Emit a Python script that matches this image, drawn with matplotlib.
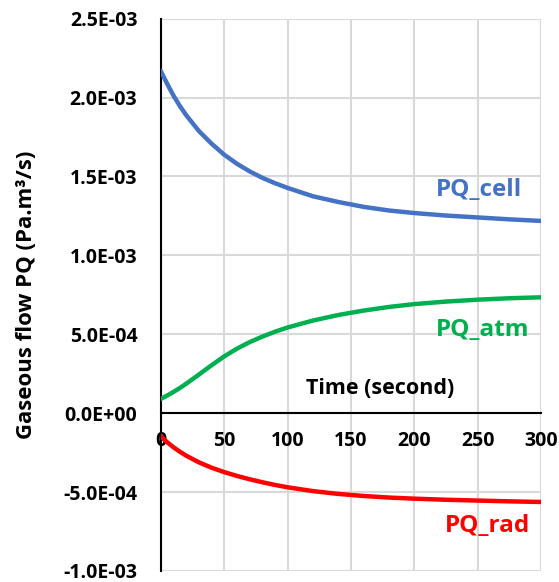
import matplotlib
matplotlib.use("Agg")
import matplotlib.pyplot as plt

plt.rcParams['font.family'] = ['Open Sans', 'DejaVu Sans']
plt.rcParams['font.weight'] = 'bold'

# values (time in s, flow in Pa.m3/s)
time = [0, 5, 10, 15, 20, 30, 40, 50, 60, 70, 80, 90, 100,
        120, 140, 160, 180, 200, 225, 250, 275, 300]
pq_cell = [2.165e-3, 2.085e-3, 2.010e-3, 1.945e-3, 1.887e-3, 1.787e-3, 1.707e-3, 1.637e-3,
           1.580e-3, 1.532e-3, 1.491e-3, 1.457e-3, 1.427e-3,
           1.374e-3, 1.338e-3, 1.307e-3, 1.284e-3, 1.268e-3, 1.252e-3, 1.240e-3, 1.228e-3, 1.218e-3]
pq_atm = [0.91e-4, 1.12e-4, 1.35e-4, 1.60e-4, 1.87e-4, 2.45e-4, 3.04e-4, 3.60e-4,
          4.09e-4, 4.50e-4, 4.85e-4, 5.16e-4, 5.43e-4,
          5.87e-4, 6.22e-4, 6.50e-4, 6.73e-4, 6.91e-4, 7.07e-4, 7.19e-4, 7.28e-4, 7.34e-4]
pq_rad = [-1.49e-4, -1.85e-4, -2.17e-4, -2.45e-4, -2.70e-4, -3.12e-4, -3.46e-4, -3.74e-4,
          -3.98e-4, -4.19e-4, -4.38e-4, -4.55e-4, -4.70e-4,
          -4.94e-4, -5.12e-4, -5.25e-4, -5.35e-4, -5.42e-4, -5.49e-4, -5.54e-4, -5.59e-4, -5.63e-4]

x_ticks = [0, 50, 100, 150, 200, 250, 300]
y_ticks = [-1.0e-3, -5.0e-4, 0.0, 5.0e-4, 1.0e-3, 1.5e-3, 2.0e-3, 2.5e-3]

c_cell = '#4472C4'
c_atm = '#00B050'
c_rad = '#FF0000'

fig = plt.figure(figsize=(5.59, 5.82), dpi=100)
ax = fig.add_axes([0.288, 0.019, 0.680, 0.949])

for vals, col in [(pq_cell, c_cell), (pq_atm, c_atm), (pq_rad, c_rad)]:
    ax.plot(time, vals, color=col, lw=3.2, solid_joinstyle='round', zorder=3)

ax.set_xlim(0, 300)
ax.set_ylim(-1.0e-3, 2.5e-3)
ax.set_xticks(x_ticks)
ax.set_yticks(y_ticks)
ax.set_yticklabels(['%.1E' % v for v in y_ticks])
ax.tick_params(axis='both', length=0, labelsize=14)
ax.tick_params(axis='x', pad=13)
ax.tick_params(axis='y', pad=17)
ax.grid(True, color='#D9D9D9', lw=1.5, zorder=0)
ax.set_axisbelow(True)

for s in ['top', 'right']:
    ax.spines[s].set_visible(False)
ax.spines['bottom'].set_position(('data', 0))
ax.spines['bottom'].set_linewidth(1.5)
ax.spines['left'].set_linewidth(1.5)

ax.set_xlabel('Time (second)', fontsize=15.5, fontweight='bold')
ax.xaxis.label.set_va('center')
ax.xaxis.set_label_coords(0.576, 0.33)
ax.set_ylabel('Gaseous flow PQ (Pa.m³/s)', fontsize=16, fontweight='bold')
ax.yaxis.label.set_va('center')
ax.yaxis.set_label_coords(-0.353, 0.5)

ax.text(251, 1.416e-3, 'PQ_cell', color=c_cell, fontsize=17.5, fontweight='bold', ha='center', va='center')
ax.text(254, 5.3e-4, 'PQ_atm', color=c_atm, fontsize=17.5, fontweight='bold', ha='center', va='center')
ax.text(258, -7.17e-4, 'PQ_rad', color=c_rad, fontsize=17.5, fontweight='bold', ha='center', va='center')

fig.savefig('out.png', dpi=100)
